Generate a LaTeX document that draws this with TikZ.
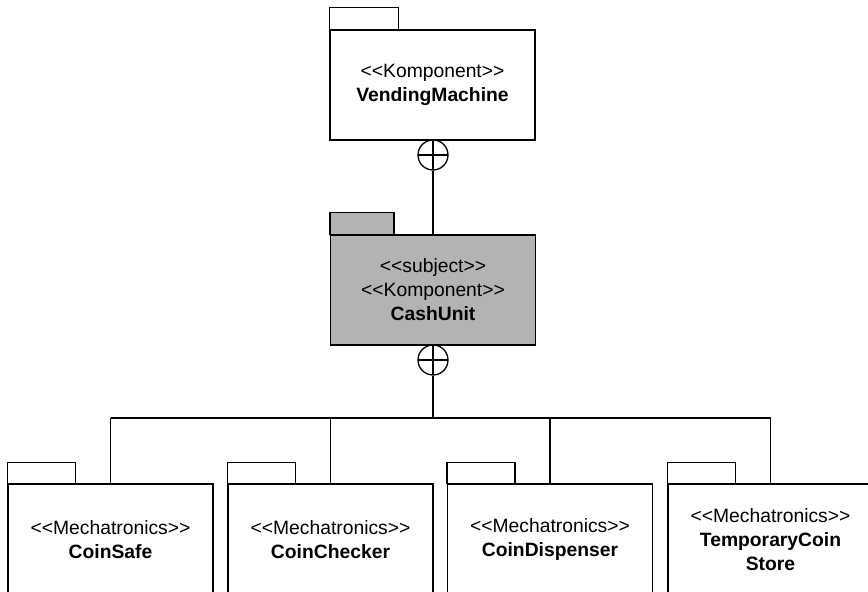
\documentclass[tikz,border=0pt]{standalone}
\usepackage{fontspec}
\setmainfont{Liberation Sans}
\definecolor{subjectgray}{RGB}{179,179,179}
% stereotype label with plain angle brackets (no guillemet ligature)
\newcommand{\stereo}[1]{<{}<#1>{}>}
\tikzset{
  pkg/.style={draw, line width=1.3pt, minimum width=205pt, minimum height=110pt,
    inner sep=0pt, align=center, font=\fontsize{19.3}{24}\selectfont},
  tab/.style={draw, line width=1.3pt},
  nest/.style={circle, draw, line width=1.3pt, minimum size=30pt, inner sep=0pt,
    path picture={
      \draw[line width=1.3pt] (path picture bounding box.north) -- (path picture bounding box.south);
      \draw[line width=1.3pt] (path picture bounding box.west) -- (path picture bounding box.east);}},
  link/.style={line width=1.3pt}
}
\begin{document}
\begin{tikzpicture}[x=1pt,y=-1pt]
\useasboundingbox (0,0) rectangle (868,592);
\clip (0,0) rectangle (868,592);

% containing component
\node[pkg, fill=white] (vm) at (432.5,85) {\stereo{Komponent}\\\textbf{VendingMachine}};
\draw[tab] (vm.north west) rectangle ++(69,-22);

% subject component
\node[pkg, fill=subjectgray] (cu) at (433,290) {\stereo{subject}\\\stereo{Komponent}\\\textbf{CashUnit}};
\draw[tab, fill=subjectgray] (cu.north west) rectangle ++(64,-22);

% nesting markers
\node[nest] (n1) at (433,155) {};
\node[nest] (n2) at (433,360) {};
\draw[link] (n1.south) -- (cu.north);
\coordinate (bus) at (433,418);
\draw[link] (n2.south) -- (bus);

% contained parts
\node[pkg, minimum height=112pt] (cs) at (110.5,540) {\stereo{Mechatronics}\\\textbf{CoinSafe}};
\node[pkg, minimum height=112pt] (cc) at (330.5,540) {\stereo{Mechatronics}\\\textbf{CoinChecker}};
\node[pkg, minimum height=112pt] (cd) at (550,540) {\stereo{Mechatronics}\\\textbf{CoinDispenser}};
\node[pkg, minimum height=112pt] (ts) at (770.5,540) {\stereo{Mechatronics}\\\textbf{TemporaryCoin}\\\textbf{Store}};
\foreach \n in {cs,cc,cd,ts} {
  \draw[tab] (\n.north west) rectangle ++(68,-21);
  \draw[link] (\n.north |- bus) -- (\n.north);
}
\draw[link] (cs.north |- bus) -- (ts.north |- bus);
\end{tikzpicture}
\end{document}
